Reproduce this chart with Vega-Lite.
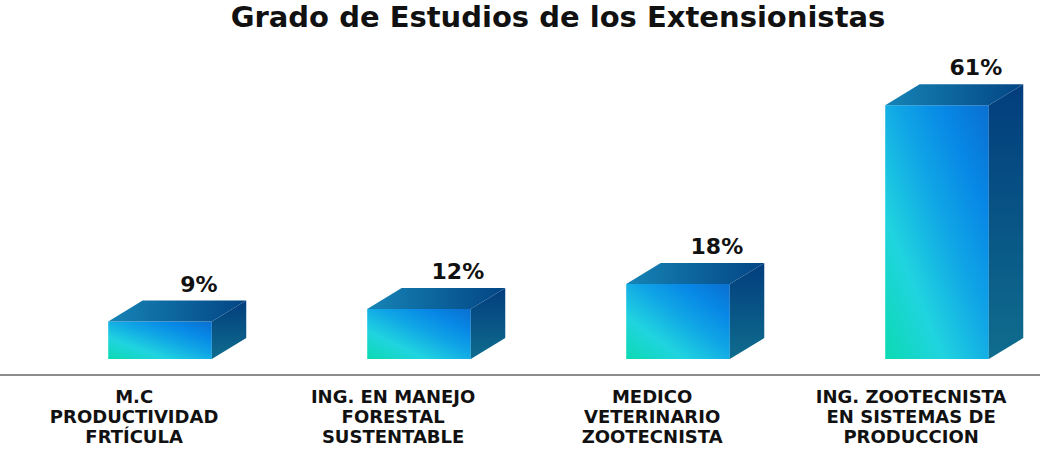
{
  "$schema": "https://vega.github.io/schema/vega-lite/v6.json",
  "width": 1040,
  "height": 410,
  "autosize": {"type": "none"},
  "padding": {"top": 40, "bottom": 0, "left": 0, "right": 0},
  "background": "white",
  "title": {"text": "Grado de Estudios de los Extensionistas", "font": "DejaVu Sans", "fontSize": 29, "fontWeight": "bold", "color": "#111111", "anchor": "middle", "offset": 7, "dx": 38},
  "config": {"view": {"stroke": null}},
  "data": {"values": [
    {"categoria": "M.C\nPRODUCTIVIDAD\nFRTÍCULA", "porcentaje": 9},
    {"categoria": "ING. EN MANEJO\nFORESTAL\nSUSTENTABLE", "porcentaje": 12},
    {"categoria": "MEDICO\nVETERINARIO\nZOOTECNISTA", "porcentaje": 18},
    {"categoria": "ING. ZOOTECNISTA\nEN SISTEMAS DE\nPRODUCCION", "porcentaje": 61}
  ]},
  "transform": [{"window": [{"op": "row_number", "as": "idx"}]}],
  "layer": [
    {
      "mark": {"type": "rule", "color": "#8c8c8c", "strokeWidth": 2},
      "encoding": {
        "y": {"datum": -3.85, "type": "quantitative", "scale": {"domain": [-21.88, 76.68], "nice": false, "zero": false}, "axis": null}
      }
    },
    {
      "transform": [
        {"calculate": "datum.idx - 0.2", "as": "xl"},
        {"calculate": "datum.idx + 0.2", "as": "xr"}
      ],
      "mark": {"type": "rect", "fill": {"gradient": "linear", "x1": 0, "y1": 1, "x2": 1, "y2": 0, "stops": [
        {"offset": 0, "color": "#0bdab2"},
        {"offset": 0.28, "color": "#20d4df"},
        {"offset": 0.55, "color": "#10a6e6"},
        {"offset": 0.78, "color": "#0787e6"},
        {"offset": 1, "color": "#0a6fcf"}
      ]}},
      "encoding": {
        "x": {"field": "xl", "type": "quantitative", "scale": {"domain": [0.3822, 4.3976], "nice": false, "zero": false}, "axis": null},
        "x2": {"field": "xr"},
        "y": {"field": "porcentaje", "type": "quantitative", "scale": {"domain": [-21.88, 76.68], "nice": false, "zero": false}, "axis": null},
        "y2": {"datum": 0}
      }
    },
    {
      "transform": [
        {"calculate": "datum.idx + 0.2", "as": "sa"},
        {"calculate": "datum.idx + 0.333", "as": "sb"},
        {"fold": ["sa", "sb"], "as": ["k", "xv"]},
        {"calculate": "datum.k == 'sa' ? 0 : 5.05", "as": "ylo"},
        {"calculate": "datum.k == 'sa' ? datum.porcentaje : datum.porcentaje + 5.05", "as": "yhi"}
      ],
      "mark": {"type": "area", "orient": "vertical", "interpolate": "linear", "fill": {"gradient": "linear", "x1": 0, "y1": 0, "x2": 0, "y2": 1, "stops": [
        {"offset": 0, "color": "#023d7d"},
        {"offset": 1, "color": "#0f6d8e"}
      ]}},
      "encoding": {
        "x": {"field": "xv", "type": "quantitative", "scale": {"domain": [0.3822, 4.3976], "nice": false, "zero": false}, "axis": null},
        "y": {"field": "yhi", "type": "quantitative", "stack": null, "scale": {"domain": [-21.88, 76.68], "nice": false, "zero": false}, "axis": null},
        "y2": {"field": "ylo"},
        "detail": {"field": "categoria", "type": "nominal"}
      }
    },
    {
      "transform": [
        {"calculate": "datum.idx - 0.2", "as": "t0"},
        {"calculate": "datum.idx - 0.067", "as": "t1"},
        {"calculate": "datum.idx + 0.2", "as": "t2"},
        {"calculate": "datum.idx + 0.333", "as": "t3"},
        {"fold": ["t0", "t1", "t2", "t3"], "as": ["k", "xv"]},
        {"calculate": "datum.k == 't3' ? datum.porcentaje + 5.05 : datum.porcentaje", "as": "ylo"},
        {"calculate": "datum.k == 't0' ? datum.porcentaje : datum.porcentaje + 5.05", "as": "yhi"}
      ],
      "mark": {"type": "area", "orient": "vertical", "interpolate": "linear", "fill": {"gradient": "linear", "x1": 0, "y1": 0, "x2": 1, "y2": 0, "stops": [
        {"offset": 0, "color": "#1684b6"},
        {"offset": 1, "color": "#034584"}
      ]}},
      "encoding": {
        "x": {"field": "xv", "type": "quantitative", "scale": {"domain": [0.3822, 4.3976], "nice": false, "zero": false}, "axis": null},
        "y": {"field": "yhi", "type": "quantitative", "stack": null, "scale": {"domain": [-21.88, 76.68], "nice": false, "zero": false}, "axis": null},
        "y2": {"field": "ylo"},
        "detail": {"field": "categoria", "type": "nominal"}
      }
    },
    {
      "transform": [
        {"calculate": "datum.idx + 0.15", "as": "xt"},
        {"calculate": "datum.porcentaje + 5.05", "as": "yt"},
        {"calculate": "datum.porcentaje + '%'", "as": "etiqueta"}
      ],
      "mark": {"type": "text", "font": "DejaVu Sans", "fontWeight": "bold", "fontSize": 22, "color": "#111111", "baseline": "alphabetic", "align": "center", "dy": -9},
      "encoding": {
        "x": {"field": "xt", "type": "quantitative", "scale": {"domain": [0.3822, 4.3976], "nice": false, "zero": false}, "axis": null},
        "y": {"field": "yt", "type": "quantitative", "scale": {"domain": [-21.88, 76.68], "nice": false, "zero": false}, "axis": null},
        "text": {"field": "etiqueta", "type": "nominal"}
      }
    },
    {
      "transform": [
        {"calculate": "datum.idx - 0.1", "as": "xc"}
      ],
      "mark": {"type": "text", "font": "DejaVu Sans", "fontWeight": "bold", "fontSize": 18, "color": "#111111", "baseline": "top", "align": "center", "lineBreak": "\n", "lineHeight": 20},
      "encoding": {
        "x": {"field": "xc", "type": "quantitative", "scale": {"domain": [0.3822, 4.3976], "nice": false, "zero": false}, "axis": null},
        "y": {"datum": -7.3, "type": "quantitative", "scale": {"domain": [-21.88, 76.68], "nice": false, "zero": false}, "axis": null},
        "text": {"field": "categoria", "type": "nominal"}
      }
    }
  ]
}
